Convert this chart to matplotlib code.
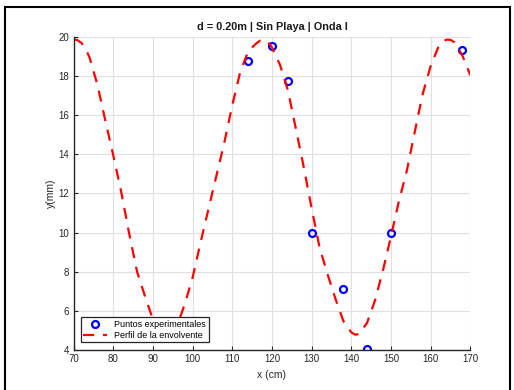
import matplotlib.pyplot as plt
from matplotlib.patches import Rectangle

# measured points
x_pts = [114, 120, 124, 130, 138, 144, 150, 168]
y_pts = [18.75, 19.55, 17.75, 10.0, 7.1, 4.07, 10.0, 19.3]

# envelope profile
x_env = [70, 71, 72, 73, 74, 76, 78, 80, 82, 84, 86, 88, 90, 92, 94, 96, 98,
         100, 102, 104, 106, 108, 110, 112, 114, 116, 117, 118, 119, 120, 122,
         124, 126, 128, 130, 132, 134, 136, 138, 140, 141, 142, 144, 146, 148,
         150, 152, 154, 156, 158, 160, 162, 163, 164, 165, 166, 168, 170]
y_env = [19.87, 19.82, 19.68, 19.38, 18.95, 17.55, 15.71, 13.94, 12.08, 9.95,
         8.0, 6.74, 5.55, 4.95, 4.77, 5.2, 6.33, 7.7, 9.49, 11.2, 12.9, 14.6,
         16.5, 18.2, 19.25, 19.65, 19.8, 19.85, 19.72, 19.45, 18.58, 17.28,
         15.33, 13.35, 11.24, 9.24, 7.88, 6.62, 5.48, 4.9, 4.78, 4.82, 5.4,
         6.55, 8.08, 9.8, 11.6, 13.16, 15.14, 17.08, 18.5, 19.5, 19.75, 19.85,
         19.84, 19.72, 19.04, 18.04]

plt.rcParams['font.family'] = ['Liberation Sans', 'DejaVu Sans']

fig = plt.figure(figsize=(5.14, 3.90), dpi=100)
fig.patches.append(Rectangle((5 / 514, -0.05), 505 / 514, 1 - 7 / 390 + 0.05,
                             transform=fig.transFigure, fill=False,
                             edgecolor='black', linewidth=1.5))
ax = fig.add_axes([73.6 / 514, 1 - 350 / 390, 396.7 / 514, 313.3 / 390])

ax.plot(x_pts, y_pts, 'o', color='blue', markerfacecolor='none',
        markersize=5, markeredgewidth=1.6, label='Puntos experimentales')
ax.plot(x_env, y_env, '--', color='red', linewidth=1.6, dashes=(5, 4),
        label='Perfil de la envolvente')

ax.set_xlim(70, 170)
ax.set_ylim(4, 20)
ax.set_xticks(range(70, 171, 10))
ax.set_yticks(range(4, 21, 2))
ax.grid(True, color='#e0e0e0', linewidth=0.8)
ax.set_axisbelow(True)
for side in ['top', 'right']:
    ax.spines[side].set_visible(False)
for side in ['left', 'bottom']:
    ax.spines[side].set_color('#262626')
    ax.spines[side].set_linewidth(1.0)
ax.tick_params(direction='in', length=3, labelsize=7, colors='#262626',
               labelcolor='#262626', pad=3)

ax.set_xlabel('x (cm)', fontsize=7.5, color='#262626', labelpad=4)
ax.set_ylabel('y(mm)', fontsize=7.5, color='#262626', labelpad=2)
ax.set_title('d = 0.20m | Sin Playa | Onda I', fontsize=7.8,
             fontweight='bold', color='#1a1a1a', pad=5)

leg = ax.legend(loc='lower left', fontsize=6.5, frameon=True, fancybox=False,
                edgecolor='#262626', framealpha=1, handlelength=2.6,
                borderpad=0.3, labelspacing=0.2, borderaxespad=0,
                bbox_to_anchor=(0.018, 0.024))
leg.get_frame().set_linewidth(0.9)

fig.savefig('out.png', dpi=100)
